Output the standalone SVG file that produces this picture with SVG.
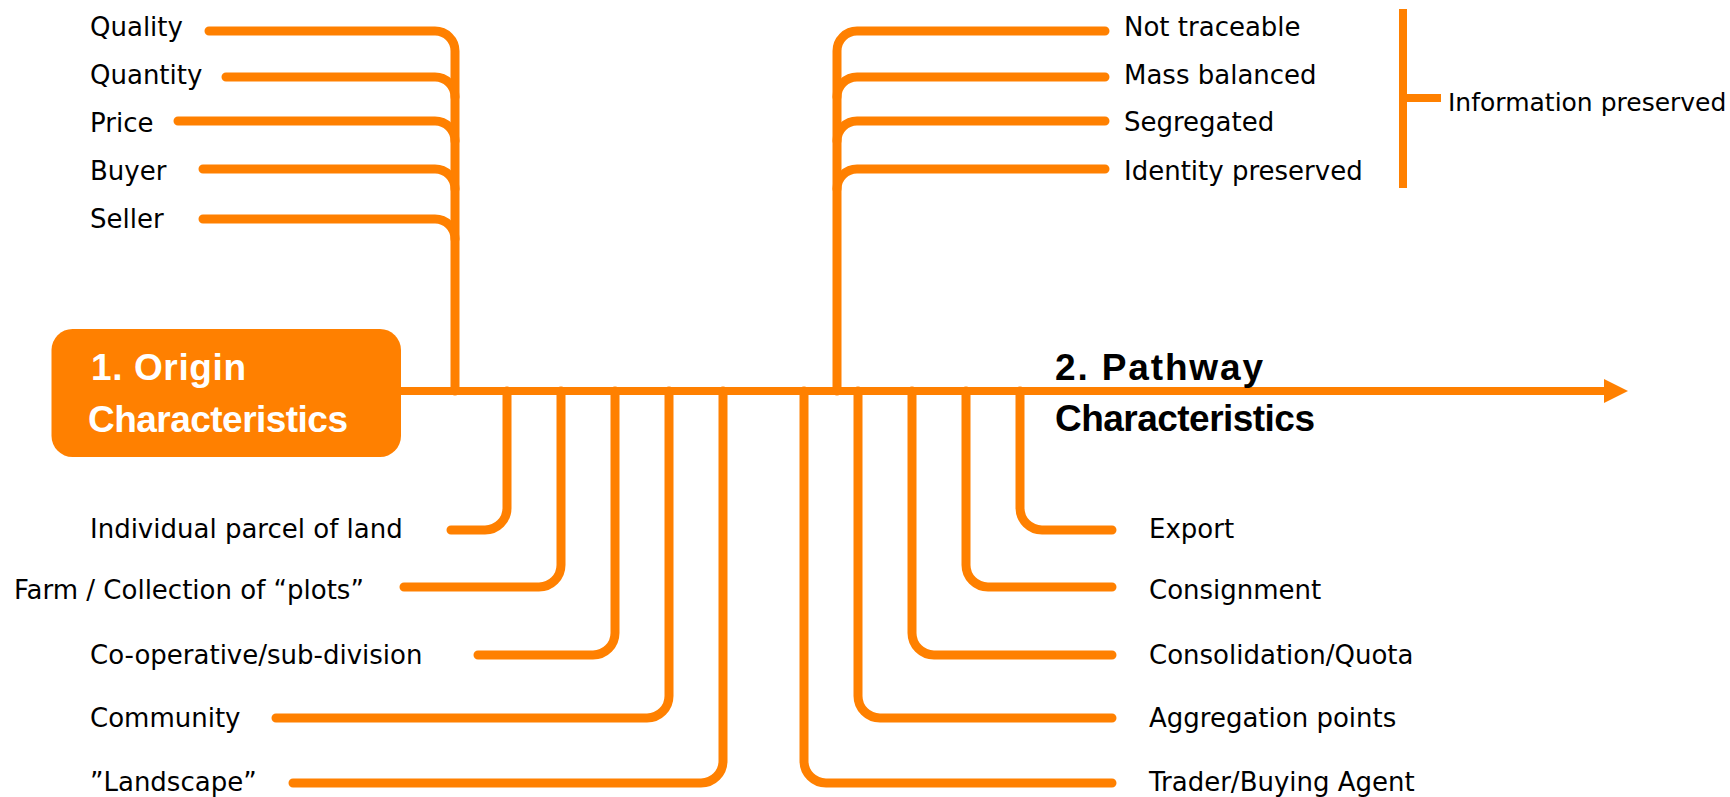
<svg xmlns="http://www.w3.org/2000/svg" width="1730" height="797" viewBox="0 0 1730 797">
<style>
.c{fill:none;stroke:#FF8000;stroke-width:9;stroke-linecap:round;stroke-linejoin:round}
.t{font-family:"DejaVu Sans",sans-serif;font-size:26px;fill:#000}
.h{font-family:"Liberation Sans",Arial,sans-serif;font-size:37px;font-weight:bold}
</style>
<rect width="1730" height="797" fill="#fff"/>
<g id="connectors">
  <line x1="400" y1="391" x2="1606" y2="391" stroke="#FF8000" stroke-width="8"/>
  <polygon points="1604,379 1628,391 1604,403" fill="#FF8000"/>
  <!-- upper-left -->
  <path class="c" d="M209,31 H435 A20,20 0 0 1 455,51 V391"/>
  <path class="c" d="M226,77 H435 A20,20 0 0 1 455,97"/>
  <path class="c" d="M178,121 H435 A20,20 0 0 1 455,141"/>
  <path class="c" d="M203,169 H435 A20,20 0 0 1 455,189"/>
  <path class="c" d="M203,219 H435 A20,20 0 0 1 455,239"/>
  <!-- upper-right -->
  <path class="c" d="M837,391 V51 A20,20 0 0 1 857,31 H1105"/>
  <path class="c" d="M837,97 A20,20 0 0 1 857,77 H1105"/>
  <path class="c" d="M837,141 A20,20 0 0 1 857,121 H1105"/>
  <path class="c" d="M837,189 A20,20 0 0 1 857,169 H1105"/>
  <!-- bracket -->
  <line x1="1403" y1="9" x2="1403" y2="188" stroke="#FF8000" stroke-width="8"/>
  <line x1="1403" y1="98" x2="1441" y2="98" stroke="#FF8000" stroke-width="8"/>
  <!-- bottom-left -->
  <path class="c" d="M507,391 V508 A22,22 0 0 1 485,530 H451"/>
  <path class="c" d="M561,391 V565 A22,22 0 0 1 539,587 H404"/>
  <path class="c" d="M615,391 V633 A22,22 0 0 1 593,655 H478"/>
  <path class="c" d="M669,391 V696 A22,22 0 0 1 647,718 H276"/>
  <path class="c" d="M723,391 V761 A22,22 0 0 1 701,783 H293"/>
  <!-- bottom-right -->
  <path class="c" d="M1020,391 V508 A22,22 0 0 0 1042,530 H1112"/>
  <path class="c" d="M966,391 V565 A22,22 0 0 0 988,587 H1112"/>
  <path class="c" d="M912,391 V633 A22,22 0 0 0 934,655 H1112"/>
  <path class="c" d="M858,391 V696 A22,22 0 0 0 880,718 H1112"/>
  <path class="c" d="M804,391 V761 A22,22 0 0 0 826,783 H1112"/>
</g>
<g id="origin">
  <rect x="51.5" y="329" width="349.5" height="128" rx="21" fill="#FF8000"/>
  <text class="h" x="91" y="380" fill="#fff" textLength="155">1. Origin</text>
  <text class="h" x="88" y="432" fill="#fff" textLength="260">Characteristics</text>
</g>
<g id="pathway">
  <text class="h" x="1055" y="380" fill="#000" textLength="208">2. Pathway</text>
  <text class="h" x="1055" y="431" fill="#000" textLength="260">Characteristics</text>
</g>
<g id="quality"><text class="t" x="90" y="36">Quality</text></g>
<g id="quantity"><text class="t" x="90" y="84">Quantity</text></g>
<g id="price"><text class="t" x="90" y="131.5">Price</text></g>
<g id="buyer"><text class="t" x="90" y="180">Buyer</text></g>
<g id="seller"><text class="t" x="90" y="227.5">Seller</text></g>
<g id="not-traceable"><text class="t" x="1124" y="36">Not traceable</text></g>
<g id="mass-balanced"><text class="t" x="1124" y="83.5">Mass balanced</text></g>
<g id="segregated"><text class="t" x="1124" y="131">Segregated</text></g>
<g id="identity-preserved"><text class="t" x="1124" y="180">Identity preserved</text></g>
<g id="information-preserved"><text class="t" x="1448" y="110.5" style="font-size:25px">Information preserved</text></g>
<g id="individual"><text class="t" x="90" y="538">Individual parcel of land</text></g>
<g id="farm"><text class="t" x="14" y="599">Farm / Collection of “plots”</text></g>
<g id="cooperative"><text class="t" x="90" y="664">Co-operative/sub-division</text></g>
<g id="community"><text class="t" x="90" y="727">Community</text></g>
<g id="landscape"><text class="t" x="90" y="791">”Landscape”</text></g>
<g id="export"><text class="t" x="1149" y="538">Export</text></g>
<g id="consignment"><text class="t" x="1149" y="599">Consignment</text></g>
<g id="consolidation"><text class="t" x="1149" y="664">Consolidation/Quota</text></g>
<g id="aggregation"><text class="t" x="1149" y="727">Aggregation points</text></g>
<g id="trader"><text class="t" x="1149" y="791">Trader/Buying Agent</text></g>
</svg>
